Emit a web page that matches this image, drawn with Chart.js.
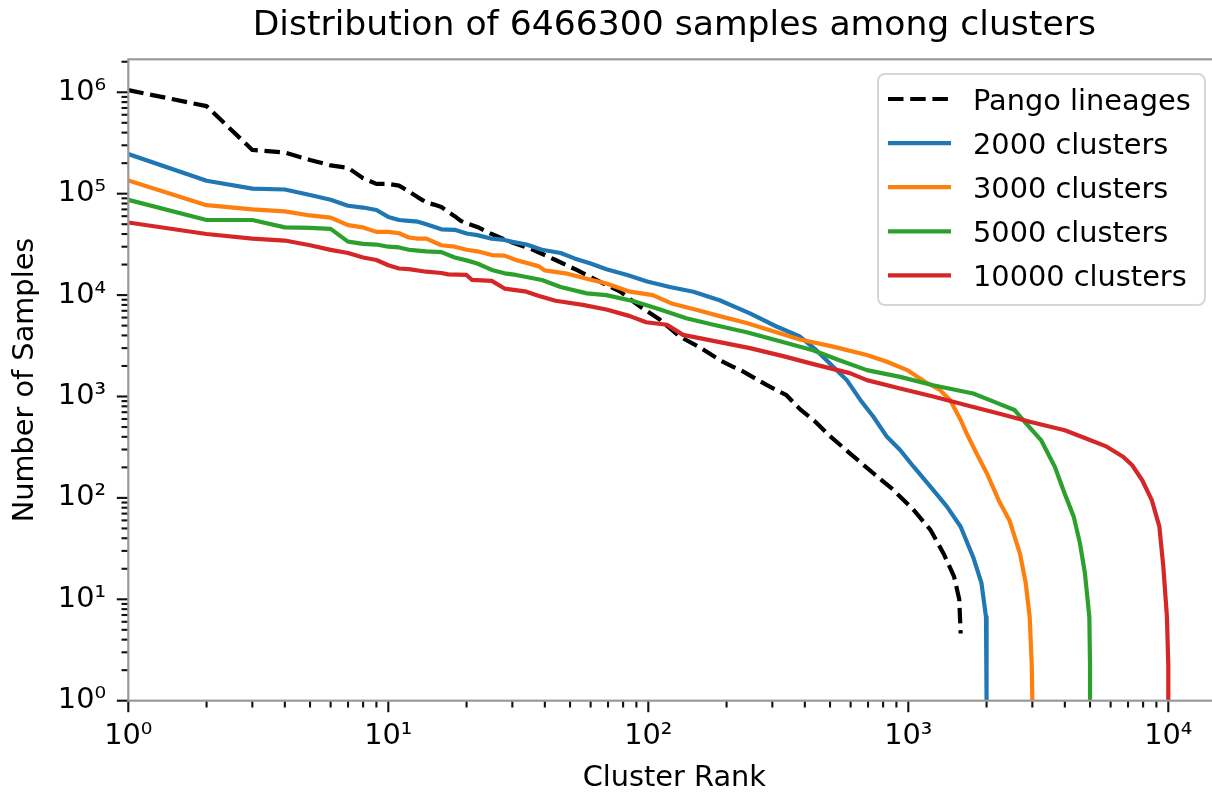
<!DOCTYPE html>
<html><head><meta charset="utf-8">
<script src="https://cdn.jsdelivr.net/npm/chart.js@4.4.1/dist/chart.umd.min.js"></script>
<style>
html,body{margin:0;padding:0;background:#fff;overflow:hidden;width:1212px;height:792px}
#wrap{position:absolute;left:0;top:0;width:1224px;height:792px}
</style></head><body><div id="wrap"><canvas id="c"></canvas></div>
<script>
const FONT = "'DejaVu Sans', sans-serif";
const titleText = 'Distribution of 6466300 samples among clusters';
const xAxisTitle = 'Cluster Rank';
const yAxisTitle = 'Number of Samples';
const seriesLabels = ['Pango lineages', '2000 clusters', '3000 clusters', '5000 clusters', '10000 clusters'];
const xTickValues = [1, 10, 100, 1000, 10000];
const xTickLabels = ['10⁰', '10¹', '10²', '10³', '10⁴'];
const yTickValues = [1, 10, 100, 1000, 10000, 100000, 1000000];
const yTickLabels = ['10⁰', '10¹', '10²', '10³', '10⁴', '10⁵', '10⁶'];

const pangoRank = [1,2,3,4,5,6,7,8,9,10,11,12,13,14,15,16,17,18,19,20,22,25,29,36,44,53,65,78,93,111,132,158,188,211,232,285,340,383,440,498,596,734,876,1048,1219,1369,1500,1570,1590];
const pangoCount = [1.05e6,7.3e5,2.7e5,2.55e5,2.15e5,1.9e5,1.8e5,1.42e5,1.25e5,1.25e5,1.2e5,1.05e5,9.2e4,8.2e4,7.8e4,7.4e4,6.6e4,6.0e4,5.4e4,5.1e4,4.7e4,4.0e4,3.4e4,2.8e4,2.22e4,1.77e4,1.36e4,1.08e4,7.7e3,5.7e3,3.9e3,3.05e3,2.29e3,1.97e3,1.76e3,1.3e3,1.03e3,750,560,410,275,175,120,76,48,28,16.7,10,4.6];

const c2000Rank = [1,2,3,4,5,6,7,8,9,10,11,12,13,14,16,18,20,22,25,28,30,34,39,46,52,60,69,83,99,121,149,188,246,311,383,443,514,580,654,734,828,930,1048,1246,1408,1590,1777,1912,1990,2000,2000];
const c2000Count = [2.46e5,1.34e5,1.12e5,1.1e5,9.7e4,8.7e4,7.6e4,7.3e4,6.9e4,5.9e4,5.5e4,5.4e4,5.3e4,5.0e4,4.45e4,4.4e4,4.05e4,3.9e4,3.6e4,3.5e4,3.35e4,3.15e4,2.8e4,2.6e4,2.3e4,2.05e4,1.8e4,1.58e4,1.36e4,1.2e4,1.08e4,8.9e3,6.6e3,4.9e3,3.9e3,2.86e3,1.97e3,1.45e3,925,631,400,297,203,120,82,52,26,14.4,6.7,3.2,1];

const c3000Rank = [1,2,3,4,5,6,7,8,9,10,11,12,13,14,16,18,20,22,25,28,31,38,40,48,58,69,85,104,124,158,188,239,302,383,514,693,828,990,1162,1324,1450,1590,1675,1830,2005,2226,2450,2690,2830,2930,2985,3000];
const c3000Count = [1.35e5,7.7e4,7.0e4,6.7e4,6.1e4,5.8e4,4.9e4,4.65e4,4.2e4,4.2e4,4.07e4,3.7e4,3.6e4,3.6e4,3.1e4,3.0e4,2.8e4,2.7e4,2.48e4,2.45e4,2.22e4,1.92e4,1.75e4,1.64e4,1.45e4,1.3e4,1.08e4,1.0e4,8.2e3,7.0e3,6.2e3,5.3e3,4.4e3,3.65e3,3.1e3,2.57e3,2.2e3,1.82e3,1.39e3,1.16e3,920,587,434,275,175,95,60,28,14.4,6.7,2.2,1];

const c5000Rank = [1,2,3,4,5,6,7,8,9,10,11,12,13,14,16,18,20,22,25,28,31,39,46,58,69,88,111,140,178,239,321,430,540,693,930,1246,1777,2130,2560,2836,3240,3660,3990,4330,4570,4780,4970,5000,5000];
const c5000Count = [8.7e4,5.5e4,5.5e4,4.65e4,4.6e4,4.5e4,3.37e4,3.2e4,3.15e4,3.0e4,2.95e4,2.8e4,2.75e4,2.7e4,2.65e4,2.35e4,2.2e4,2.05e4,1.77e4,1.64e4,1.58e4,1.41e4,1.2e4,1.04e4,1.0e4,8.7e3,7.2e3,5.9e3,5.1e3,4.3e3,3.5e3,2.86e3,2.29e3,1.82e3,1.56e3,1.29e3,1.07e3,890,736,544,372,203,111,65,36,18,6.7,2.2,1];

const c10000Rank = [1,2,3,4,5,6,7,8,9,10,11,12,14,16,17,20,21,25,28,34,38,44,56,69,85,98,118,136,182,246,330,443,596,693,930,1246,1675,2226,2960,4000,4800,5800,6700,7250,7930,8640,9240,9570,9880,10000,10000];
const c10000Count = [5.2e4,4.0e4,3.6e4,3.45e4,3.1e4,2.79e4,2.6e4,2.35e4,2.22e4,1.97e4,1.83e4,1.8e4,1.7e4,1.65e4,1.6e4,1.58e4,1.41e4,1.38e4,1.16e4,1.08e4,9.8e3,8.8e3,8.0e3,7.2e3,6.2e3,5.4e3,5.1e3,4.05e3,3.5e3,3.0e3,2.5e3,2.05e3,1.7e3,1.45e3,1.2e3,1.0e3,820,680,560,465,387,320,255,211,150,95,52,21,6.7,2.2,1];

const seriesRanks = [pangoRank, c2000Rank, c3000Rank, c5000Rank, c10000Rank];
const seriesCounts = [pangoCount, c2000Count, c3000Count, c5000Count, c10000Count];
const seriesColors = ['#000000', '#1f77b4', '#ff7f0e', '#2ca02c', '#d62728'];

const datasets = seriesLabels.map((lab, i) => ({
  label: lab,
  data: seriesRanks[i].map((r, j) => ({x: r, y: seriesCounts[i][j]})),
  borderColor: seriesColors[i],
  backgroundColor: seriesColors[i],
  borderWidth: 4.2,
  borderDash: i === 0 ? [15.5, 6.7] : [],
  borderCapStyle: 'butt',
  borderJoinStyle: 'round',
  pointRadius: 0,
  pointHoverRadius: 0,
  tension: 0,
  fill: false,
  order: 5 - i
}));

const framePlugin = {
  id: 'frame',
  afterDraw(chart) {
    const ctx = chart.ctx, a = chart.chartArea;
    const xs = chart.scales.x, ys = chart.scales.y;
    ctx.save();
    ctx.strokeStyle = '#9a9a9a';
    ctx.lineWidth = 2.2;
    ctx.strokeRect(a.left, a.top, a.right - a.left, a.bottom - a.top);
    ctx.strokeStyle = '#111';
    ctx.lineWidth = 2.1;
    const drawTick = (axis, v, len) => {
      ctx.beginPath();
      if (axis === 'x') {
        const p = xs.getPixelForValue(v);
        if (p < a.left - 0.5 || p > a.right + 0.5) return;
        ctx.moveTo(p, a.bottom + 1); ctx.lineTo(p, a.bottom + 1 + len);
      } else {
        const p = ys.getPixelForValue(v);
        if (p < a.top - 0.5 || p > a.bottom + 0.5) return;
        ctx.moveTo(a.left - 1, p); ctx.lineTo(a.left - 1 - len, p);
      }
      ctx.stroke();
    };
    for (let d = 0; d <= 4; d++) {
      drawTick('x', Math.pow(10, d), 10.5);
      for (let m = 2; m <= 9; m++) drawTick('x', m * Math.pow(10, d), 5.8);
    }
    for (let d = 0; d <= 6; d++) {
      drawTick('y', Math.pow(10, d), 10.5);
      for (let m = 2; m <= 9; m++) drawTick('y', m * Math.pow(10, d), 5.8);
    }
    const bx = a.right - 15.3, by = a.top + 14.7;
    const bw = 327, bh = 231;
    const left = bx - bw;
    ctx.beginPath();
    const r = 7;
    ctx.moveTo(left + r, by);
    ctx.lineTo(left + bw - r, by); ctx.arcTo(left + bw, by, left + bw, by + r, r);
    ctx.lineTo(left + bw, by + bh - r); ctx.arcTo(left + bw, by + bh, left + bw - r, by + bh, r);
    ctx.lineTo(left + r, by + bh); ctx.arcTo(left, by + bh, left, by + bh - r, r);
    ctx.lineTo(left, by + r); ctx.arcTo(left, by, left + r, by, r);
    ctx.closePath();
    ctx.fillStyle = 'rgba(255,255,255,0.8)';
    ctx.fill();
    ctx.strokeStyle = '#d6d6d6';
    ctx.lineWidth = 2;
    ctx.stroke();
    chart.data.datasets.forEach((ds, i) => {
      const y = by + 25 + i * 44.1;
      ctx.beginPath();
      ctx.strokeStyle = ds.borderColor;
      ctx.lineWidth = 4.2;
      ctx.lineCap = 'butt';
      ctx.setLineDash(ds.borderDash || []);
      ctx.moveTo(left + 10, y); ctx.lineTo(left + 73, y);
      ctx.stroke();
      ctx.setLineDash([]);
      ctx.fillStyle = '#000';
      ctx.font = '28.8px ' + FONT;
      ctx.textAlign = 'left';
      ctx.textBaseline = 'alphabetic';
      ctx.fillText(ds.label, left + 95, y + 11);
    });
    ctx.restore();
  }
};

new Chart(document.getElementById('c'), {
  type: 'line',
  data: {datasets},
  plugins: [framePlugin],
  options: {
    responsive: true,
    maintainAspectRatio: false,
    devicePixelRatio: 1,
    animation: false,
    events: [],
    layout: {padding: {top: 0, left: 0, right: 3.7, bottom: 0}},
    plugins: {
      legend: {display: false},
      tooltip: {enabled: false},
      title: {
        display: true, text: titleText, fullSize: false, align: 'center',
        color: '#000', font: {family: FONT, size: 34.6, weight: 'normal', lineHeight: 1.2},
        padding: {top: 5.6, bottom: 12.2}
      }
    },
    scales: {
      x: {
        type: 'logarithmic', position: 'bottom', min: 1, max: Math.pow(10, 4.2),
        afterBuildTicks: s => { s.ticks = xTickValues.map(v => ({value: v, major: true})); },
        afterFit: s => { s.height = 91.3; },
        ticks: {
          callback: v => xTickLabels[xTickValues.indexOf(v)],
          font: {family: FONT, size: 28.8}, color: '#000', padding: 7.7,
          maxRotation: 0, minRotation: 0, autoSkip: false
        },
        grid: {drawOnChartArea: false, drawTicks: true, tickLength: 11, tickColor: 'rgba(0,0,0,0)'},
        border: {display: false},
        title: {display: true, text: xAxisTitle, color: '#000', font: {family: FONT, size: 28.8}, padding: {top: 0, bottom: -4}}
      },
      y: {
        type: 'logarithmic', position: 'left', min: 1, max: Math.pow(10, 6.325),
        afterBuildTicks: s => { s.ticks = yTickValues.map(v => ({value: v, major: true})); },
        afterFit: s => { s.width = 128.3; },
        ticks: {
          callback: v => yTickLabels[yTickValues.indexOf(v)],
          font: {family: FONT, size: 28.8}, color: '#000', padding: 11.3, autoSkip: false
        },
        grid: {drawOnChartArea: false, drawTicks: true, tickLength: 11, tickColor: 'rgba(0,0,0,0)'},
        border: {display: false},
        title: {display: true, text: yAxisTitle, color: '#000', font: {family: FONT, size: 28.8}, padding: {top: 8.5, bottom: 0}}
      }
    }
  }
});
</script></body></html>
